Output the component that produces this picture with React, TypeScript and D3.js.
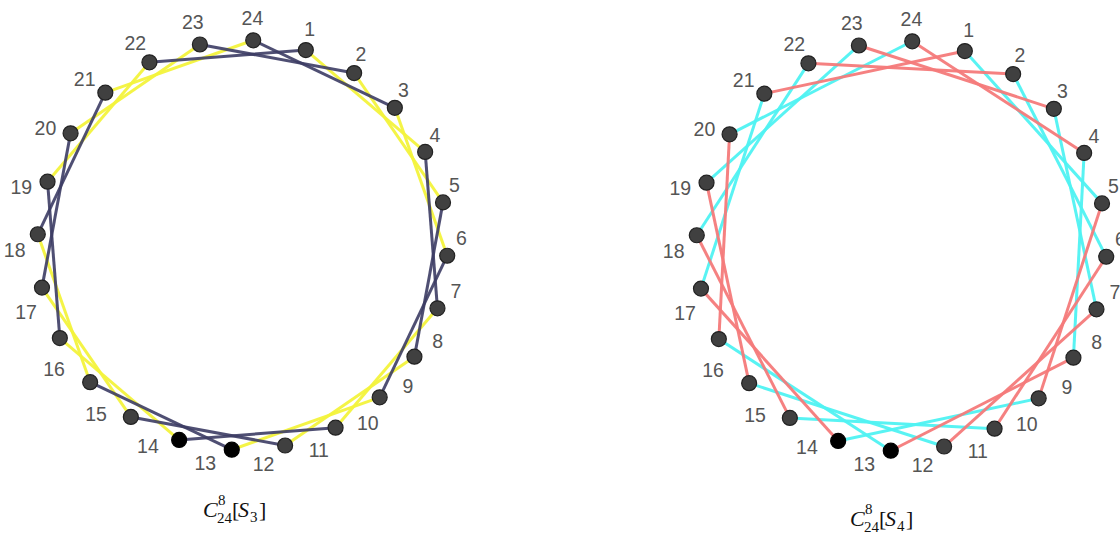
import React, { useEffect } from 'react';
import * as d3 from 'd3';

// 24 vertices on each ring
const nodeIds = [1, 2, 3, 4, 5, 6, 7, 8, 9, 10, 11, 12, 13, 14, 15, 16, 17, 18, 19, 20, 21, 22, 23, 24];
const blackNodes = [12, 13];

// left graph: C_24^8[S_3]
const yellowEdges = [
  [1, 4], [2, 5], [3, 6], [7, 10], [8, 11], [9, 12],
  [13, 16], [14, 17], [15, 18], [19, 22], [20, 23], [21, 24],
];
const navyEdges = [
  [22, 1], [23, 2], [24, 3], [4, 7], [5, 8], [6, 9],
  [10, 13], [11, 14], [12, 15], [16, 19], [17, 20], [18, 21],
];

// right graph: C_24^8[S_4]
const cyanEdges = [
  [1, 5], [2, 6], [3, 7], [4, 8], [9, 13], [10, 14],
  [11, 15], [12, 16], [17, 21], [18, 22], [19, 23], [20, 24],
];
const redEdges = [
  [21, 1], [22, 2], [23, 3], [24, 4], [5, 9], [6, 10],
  [7, 11], [8, 12], [13, 17], [14, 18], [15, 19], [16, 20],
];

const titleLeft = { sup: '8', sub: '24', inner: '3' };
const titleRight = { sup: '8', sub: '24', inner: '4' };

const W = 1120;
const H = 537;
const RADIUS = 205;

// node index -> angle in degrees (node 1 sits 18deg right of top)
const angle = d3.scaleLinear().domain([1, 25]).range([-72, 288]);
const rad = (deg: number) => (deg * Math.PI) / 180;

const nodePos = (id: number, cx: number, cy: number): [number, number] => {
  const a = rad(angle(id));
  return [cx + RADIUS * Math.cos(a), cy + RADIUS * Math.sin(a)];
};

// labels sit a bit outside and slightly counter-clockwise of each node
const labelPos = (id: number, cx: number, cy: number): [number, number] => {
  const t = rad(angle(id));
  const d = rad(-4.5 - 4 * Math.sin(t));
  const r = 223.5 - 4.2 * Math.cos(t) - 3.9 * Math.sin(t);
  return [cx + r * Math.cos(t + d), cy + r * Math.sin(t + d)];
};

interface Layer {
  edges: number[][];
  color: string;
  opacity: number;
}

const Ring: React.FC<{ cx: number; cy: number; layers: Layer[] }> = ({ cx, cy, layers }) => {
  const line = d3.line<[number, number]>();
  return (
    <g>
      {layers.map((layer, li) => (
        <g key={li}>
          {layer.edges.map(([a, b]) => (
            <path
              key={`${a}-${b}`}
              d={line([nodePos(a, cx, cy), nodePos(b, cx, cy)]) || ''}
              stroke={layer.color}
              strokeOpacity={layer.opacity}
              strokeWidth={3}
              fill="none"
            />
          ))}
        </g>
      ))}
      {nodeIds.map(id => {
        const [x, y] = nodePos(id, cx, cy);
        const black = blackNodes.includes(id);
        return (
          <circle
            key={id}
            cx={x}
            cy={y}
            r={7.5}
            fill={black ? '#000' : '#404040'}
            stroke={black ? '#000' : '#222'}
            strokeWidth={1.2}
          />
        );
      })}
      {nodeIds.map(id => {
        const [x, y] = labelPos(id, cx, cy);
        return (
          <text
            key={id}
            x={x}
            y={y}
            dy="0.35em"
            textAnchor="middle"
            fontFamily="'Liberation Sans', Arial, sans-serif"
            fontSize={19.5}
            fill="#555"
          >
            {id}
          </text>
        );
      })}
    </g>
  );
};

const MathTitle: React.FC<{ x0: number; y: number; t: { sup: string; sub: string; inner: string } }> = ({ x0, y, t }) => {
  const font = "'Liberation Serif', 'Times New Roman', serif";
  return (
    <g fontFamily={font} fill="#111">
      <text x={x0} y={y} fontSize={22} fontStyle="italic">C</text>
      <text x={x0 + 15} y={y - 12} fontSize={15}>{t.sup}</text>
      <text x={x0 + 14} y={y + 6} fontSize={15}>{t.sub}</text>
      <text x={x0 + 29} y={y} fontSize={22}>[</text>
      <text x={x0 + 35} y={y} fontSize={22} fontStyle="italic">S</text>
      <text x={x0 + 47} y={y + 5} fontSize={15}>{t.inner}</text>
      <text x={x0 + 56} y={y} fontSize={22}>]</text>
    </g>
  );
};

const App: React.FC = () => {
  useEffect(() => {
    document.body.style.margin = '0';
  }, []);

  return (
    <svg width={W} height={H} style={{ display: 'block', background: '#fff' }}>
      <Ring
        cx={242.5}
        cy={245}
        layers={[
          { edges: yellowEdges, color: '#f3f33c', opacity: 0.95 },
          { edges: navyEdges, color: '#3c3c64', opacity: 0.9 },
        ]}
      />
      <MathTitle x0={203} y={517} t={titleLeft} />
      <Ring
        cx={901.5}
        cy={246}
        layers={[
          { edges: cyanEdges, color: '#4ff2f2', opacity: 0.95 },
          { edges: redEdges, color: '#f47a7a', opacity: 0.95 },
        ]}
      />
      <MathTitle x0={850} y={526} t={titleRight} />
    </svg>
  );
};

export default App;
